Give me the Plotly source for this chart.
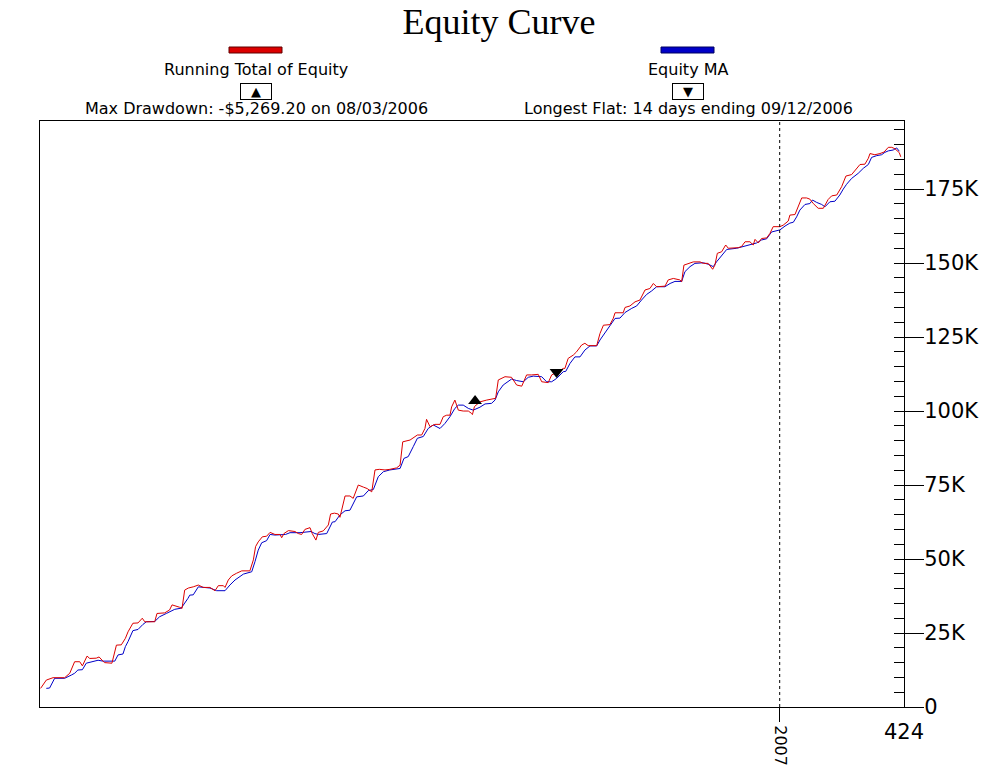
import plotly.graph_objects as go

# ---------------- data ----------------
equity_idx = [0.3, 3.1, 6.4, 12.1, 14.6, 17.0, 19.5, 20.8, 23.1, 24.4, 27.6, 29.0, 30.9, 31.7, 35.3,
              36.3, 37.5, 39.9, 41.9, 43.2, 45.6, 48.1, 50.2, 51.4, 56.3, 57.4, 61.2, 63.6, 64.8, 68.5,
              69.7, 71.0, 72.8, 75.2, 77.7, 80.1, 83.4, 85.9, 87.5, 90.0, 90.8, 92.4, 94.1, 96.5, 99.0,
              103.0, 104.7, 105.8, 107.1, 109.1, 111.2, 112.9, 115.3, 117.8, 118.6, 119.7, 121.9, 125.1,
              126.8, 128.4, 130.0, 132.5, 133.6, 135.4, 136.6, 139.0, 141.5, 142.6, 144.5, 146.4, 147.2,
              149.7, 152.1, 153.7, 156.2, 158.7, 160.6, 162.8, 164.4, 166.5, 169.3, 171.7, 175.0, 176.7,
              178.0, 181.6, 185.2, 187.3, 188.9, 189.7, 191.4, 193.8, 196.3, 197.9, 199.6, 201.2, 202.0,
              203.6, 205.3, 207.7, 210.2, 211.8, 212.2, 213.2, 215.9, 219.2, 223.6, 224.9, 226.5, 228.2,
              231.4, 233.9, 236.4, 238.8, 241.3, 244.5, 246.2, 249.4, 251.1, 253.5, 256.8, 257.6, 259.2,
              261.7, 263.3, 265.8, 267.4, 269.0, 273.2, 274.8, 276.5, 279.7, 281.3, 282.2, 286.2, 287.1,
              289.5, 292.0, 294.4, 296.9, 299.3, 301.0, 302.6, 306.7, 308.3, 310.8, 314.0, 314.9, 316.0,
              318.1, 320.6, 323.9, 325.5, 327.9, 330.1, 331.2, 332.4, 334.5, 336.5, 337.8, 342.7, 344.3,
              346.0, 348.4, 350.0, 350.9, 352.5, 354.1, 356.6, 358.2, 359.8, 363.1, 364.7, 367.2, 368.0,
              370.5, 372.1, 373.8, 376.2, 377.8, 379.5, 381.9, 384.4, 386.0, 386.8, 388.5, 391.0, 393.4,
              395.5, 398.3, 400.8, 402.4, 404.8, 406.5, 407.3, 409.7, 412.2, 414.2, 416.3, 418.0, 419.6,
              420.7, 421.7, 422.4]
equity_val = [6300, 9100, 9900, 9900, 11400, 15300, 15300, 13900, 17200, 16400, 16500, 16900, 15500, 15000,
              14800, 17600, 20900, 21000, 23200, 25400, 28300, 28400, 30000, 28800, 28800, 31600, 31800,
              32800, 34500, 33700, 33300, 39500, 40200, 40600, 41200, 40400, 40400, 39300, 41000, 41000,
              40400, 42900, 44300, 45200, 46000, 46000, 49700, 54200, 55800, 57500, 57700, 59000, 58300,
              58300, 57200, 58600, 59600, 59300, 58600, 58300, 60000, 60600, 58600, 56400, 59000, 59500,
              61500, 65200, 65500, 65200, 64100, 71300, 71300, 70500, 75000, 74300, 73800, 72700, 80100,
              80300, 80100, 80300, 80800, 81700, 89600, 90200, 91900, 91900, 94100, 97200, 94700, 95500,
              95500, 98100, 98600, 98600, 101400, 103700, 100300, 100000, 100000, 99200, 98800, 101500,
              103100, 103700, 104300, 110500, 111000, 111600, 111400, 108800, 108400, 112200, 112200,
              112400, 109900, 109600, 112200, 113000, 114400, 114400, 117800, 118900, 120000, 122300,
              122900, 122100, 122100, 126200, 129000, 129200, 131300, 133200, 133200, 135000, 135500,
              136900, 137500, 140900, 141400, 143100, 142000, 142200, 144300, 144800, 144300, 143700,
              149300, 149900, 150400, 150400, 149900, 149900, 147900, 149300, 153300, 153800, 156100,
              155000, 155200, 155600, 157200, 157200, 156100, 158000, 156800, 158300, 158500, 160000,
              162300, 162300, 162800, 164200, 166200, 166400, 169000, 172000, 172000, 171600, 170100,
              168500, 168500, 170400, 171500, 172700, 173000, 175800, 179400, 179900, 182000, 183300,
              183400, 185400, 187000, 186600, 187000, 187500, 189100, 189100, 188600, 187800, 187300,
              185900]

ma_idx = [3.1, 4.7, 7.2, 12.1, 15.4, 17.0, 18.6, 20.8, 22.7, 26.0, 28.5, 30.9, 36.7, 38.3, 40.7, 41.9,
          43.2, 45.6, 48.1, 50.5, 52.2, 56.3, 58.7, 62.0, 66.1, 69.3, 71.0, 72.6, 73.5, 75.2, 77.7, 80.1,
          83.4, 86.7, 90.8, 93.2, 95.7, 99.8, 103.9, 105.5, 107.1, 108.8, 111.2, 112.9, 115.3, 120.5,
          122.7, 127.6, 130.0, 133.0, 134.9, 136.6, 140.7, 142.0, 143.5, 144.8, 147.2, 149.7, 152.1,
          155.4, 158.7, 161.1, 163.6, 166.0, 168.5, 171.7, 175.0, 176.7, 178.6, 180.7, 183.2, 185.2,
          188.1, 190.5, 193.0, 196.3, 198.7, 201.2, 203.6, 205.3, 207.7, 210.2, 212.6, 215.9, 218.4,
          221.6, 223.3, 224.9, 227.3, 229.8, 231.4, 233.9, 237.2, 239.6, 242.1, 246.2, 248.6, 251.1,
          253.5, 256.8, 258.0, 260.1, 262.5, 265.0, 267.4, 269.9, 273.2, 274.8, 277.3, 279.7, 282.2,
          284.6, 287.1, 290.4, 292.8, 295.2, 297.7, 300.2, 302.6, 306.7, 309.2, 311.6, 314.9, 316.5,
          319.0, 321.4, 325.5, 327.9, 330.4, 332.0, 334.5, 337.0, 341.9, 345.1, 348.4, 351.7, 354.1,
          356.6, 359.0, 363.1, 365.6, 368.0, 369.7, 371.3, 372.9, 375.4, 377.8, 379.1, 381.1, 383.6,
          385.2, 387.6, 390.1, 392.5, 394.2, 395.8, 398.3, 401.5, 404.0, 406.5, 408.1, 410.6, 413.0,
          414.6, 416.3, 418.7, 420.4, 421.7]
ma_val = [6300, 6400, 9700, 9700, 10800, 11400, 12500, 12600, 14800, 15500, 15800, 15500, 15500, 17600,
          17900, 20400, 22100, 25800, 26200, 27900, 28800, 28900, 30500, 31600, 33000, 33400, 35000,
          36700, 37800, 37900, 40600, 40400, 40200, 39300, 39300, 41200, 42900, 44900, 45700, 49100,
          53000, 55500, 56200, 58300, 58100, 58300, 58900, 58900, 59000, 59300, 58600, 58300, 58600,
          60400, 62500, 62600, 64900, 66300, 66500, 71000, 71300, 73100, 73500, 77800, 79500, 80100,
          80300, 80600, 84000, 84600, 88000, 90800, 91400, 94100, 95300, 94100, 95800, 98100, 100900,
          102000, 102000, 100900, 100300, 101300, 102400, 102600, 103700, 106500, 108800, 109900,
          110800, 110300, 109900, 111400, 111800, 111600, 109900, 109900, 111000, 113300, 113400,
          116100, 118300, 118300, 120600, 122000, 122000, 124000, 126400, 128500, 131300, 131400,
          133300, 134700, 135500, 137500, 139400, 140600, 142000, 142000, 143100, 143800, 143800,
          147100, 148800, 149900, 150100, 149600, 148800, 150400, 152700, 154600, 155000, 155600,
          156100, 156800, 157800, 158200, 160500, 161200, 162500, 163500, 163800, 165600, 167900,
          169800, 170100, 171300, 170500, 169800, 169000, 170700, 170900, 173000, 175000, 176600,
          178600, 180300, 182000, 183300, 185700, 186300, 186600, 187400, 187900, 188200, 188900,
          187800]

drawdown_point = (213.5, 103400)
flat_point = (253.5, 113200)
year_tick_idx = [363]
year_tick_text = ["2007"]
last_trade = [424]
y_tick_vals = [0, 25000, 50000, 75000, 100000, 125000, 150000, 175000]
y_tick_text = ["0", "25K", "50K", "75K", "100K", "125K", "150K", "175K"]

RED = "#DC0000"
BLUE = "#0000C8"
SANS = "DejaVu Sans"

fig = go.Figure()
fig.add_trace(go.Scatter(x=ma_idx, y=ma_val, mode="lines", name="Equity MA",
                         line=dict(color=BLUE, width=1)))
fig.add_trace(go.Scatter(x=equity_idx, y=equity_val, mode="lines", name="Running Total of Equity",
                         line=dict(color=RED, width=1)))
fig.add_trace(go.Scatter(x=[drawdown_point[0]], y=[drawdown_point[1]], mode="markers",
                         marker=dict(symbol="triangle-up", size=12, color="black"), showlegend=False))
fig.add_trace(go.Scatter(x=[flat_point[0]], y=[flat_point[1]], mode="markers",
                         marker=dict(symbol="triangle-down", size=12, color="black"), showlegend=False))
# invisible trace to activate second x axis (year tick)
fig.add_trace(go.Scatter(x=year_tick_idx, y=[None], xaxis="x2", showlegend=False, hoverinfo="skip"))

fig.add_shape(type="line", xref="x", yref="paper", x0=year_tick_idx[0], x1=year_tick_idx[0],
              y0=0, y1=1, line=dict(color="black", width=1, dash="3px,3px"))

def px_x(p):
    return (p - 40) / 864.0

def px_y(p):
    return (707 - p) / 586.0

# legend swatches
for cx, col in [(256, RED), (688, BLUE)]:
    fig.add_shape(type="rect", xref="paper", yref="paper",
                  x0=px_x(cx - 27), x1=px_x(cx + 26), y0=px_y(53), y1=px_y(47),
                  fillcolor=col, line=dict(color="#600000" if col == RED else "#000060", width=1))

ann = []
for cx, label, sym, note in [(256, "Running Total of Equity", "▲", "Max Drawdown: -$5,269.20 on 08/03/2006"),
                             (688, "Equity MA", "▼", "Longest Flat: 14 days ending 09/12/2006")]:
    ann.append(dict(xref="paper", yref="paper", x=px_x(cx), y=px_y(70), text=label, showarrow=False,
                    xanchor="center", yanchor="middle", font=dict(family=SANS, size=16, color="black")))
    ann.append(dict(xref="paper", yref="paper", x=px_x(cx), y=px_y(91.5), text=sym, showarrow=False,
                    xanchor="center", yanchor="middle", width=30, height=15, borderpad=0,
                    bordercolor="black", borderwidth=1, font=dict(family=SANS, size=13, color="black")))
    ann.append(dict(xref="paper", yref="paper", x=px_x(cx), y=px_y(108), text=note, showarrow=False,
                    xanchor="center", yanchor="middle", font=dict(family=SANS, size=16, color="black")))

fig.update_layout(
    width=1000, height=770,
    margin=dict(l=40, r=96, t=121, b=63, autoexpand=False),
    paper_bgcolor="white", plot_bgcolor="white",
    showlegend=False,
    title=dict(text="Equity Curve", x=499 / 1000, xanchor="center", xref="container",
               y=1 - 21 / 770, yanchor="middle", yref="container",
               font=dict(family="Liberation Serif", size=36, color="black")),
    annotations=ann,
    xaxis=dict(range=[0, 424], showline=True, mirror=True, linecolor="black", linewidth=1,
               showgrid=False, zeroline=False, tickvals=last_trade, ticktext=[str(v) for v in last_trade],
               ticks="", ticklabelstandoff=6, automargin=False,
               tickfont=dict(family=SANS, size=21, color="black")),
    xaxis2=dict(range=[0, 424], overlaying="x", anchor="y", side="bottom", showline=False,
                showgrid=False, zeroline=False, tickvals=year_tick_idx, ticktext=year_tick_text,
                tickangle=90, ticks="outside", ticklen=14, tickcolor="black", tickwidth=1,
                automargin=False, tickfont=dict(family=SANS, size=16, color="black")),
    yaxis=dict(range=[0, 198000], side="right", showline=True, mirror=True, linecolor="black",
               linewidth=1, showgrid=False, zeroline=False, tickvals=y_tick_vals, ticktext=y_tick_text,
               ticks="outside", ticklen=19, tickcolor="black", tickwidth=1, ticklabelstandoff=-4,
               automargin=False, tickfont=dict(family=SANS, size=21, color="black"),
               minor=dict(ticks="inside", ticklen=10, dtick=5000, tick0=0, tickcolor="black",
                          tickwidth=1, showgrid=False)),
)

# remove the default 8px page margin so the 1000x770 figure fills the window exactly
fig.write_html("out.html", config={"displayModeBar": False},
               post_script="document.body.style.margin='0';")
